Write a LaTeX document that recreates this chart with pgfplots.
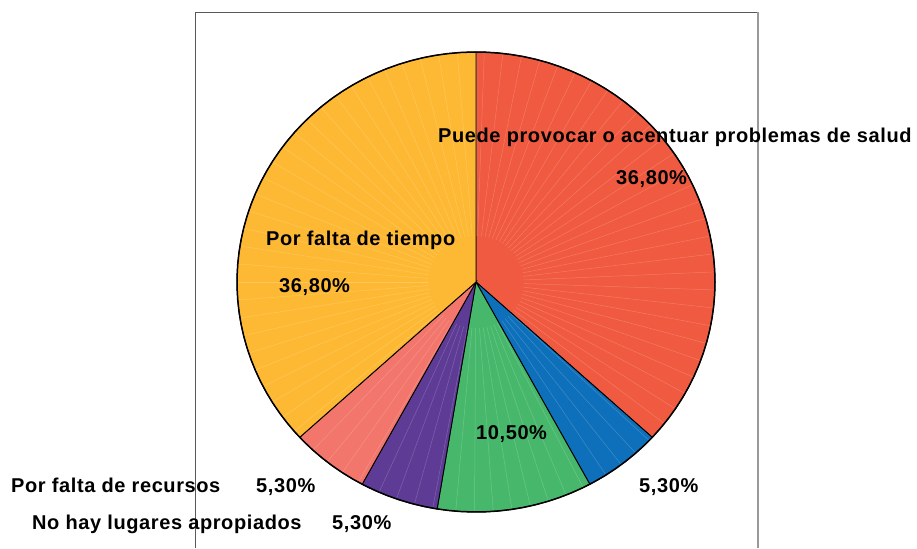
\documentclass[border=0pt]{standalone}
\usepackage{pgfplots}
\pgfplotsset{compat=1.18}
\usepackage{fontspec}
\setmainfont{Liberation Sans}
\newfontfamily\labfont[LetterSpace=3]{Liberation Sans}
\definecolor{cRed}{HTML}{F05A40}
\definecolor{cBlue}{HTML}{0E70BA}
\definecolor{cGreen}{HTML}{47B86B}
\definecolor{cPurple}{HTML}{5E3C96}
\definecolor{cPink}{HTML}{F2766B}
\definecolor{cYellow}{HTML}{FDB933}
% shares (percent): 36.8, 5.3, 10.5, 5.3, 5.3, 36.8 -> angles (deg, clockwise from top)
\newcommand{\slice}[3]{%
  \addplot[fill=#3, draw=none, domain=#1:#2, samples=60, variable=\t]
    ({476+239*cos(\t)},{266+230*sin(\t)}) -- (axis cs:476,266) -- cycle;
  \pgfplotsinvokeforeach{#1,#1+4.5,...,#2}{%
    \addplot[white, opacity=0.2, line width=0.5pt, domain=0.2:1, samples=2, variable=\r]
      ({476+239*\r*cos(##1)},{266+230*\r*sin(##1)});
  }%
  \addplot[draw=black, line width=0.9pt, domain=#1:#2, samples=60, variable=\t]
    ({476+239*cos(\t)},{266+230*sin(\t)}) -- (axis cs:476,266) -- cycle;
}
\begin{document}
\begin{tikzpicture}[lab/.style={anchor=base west, inner sep=0pt, font=\labfont\fontsize{20}{24}\selectfont\bfseries}]
\begin{axis}[width=917pt,height=548pt,scale only axis,
  xmin=0,xmax=917,ymin=0,ymax=548,axis lines=none,ticks=none,clip=false]
\addplot[draw=none] coordinates {(0,0) (917,548)};
% plot area frame
\addplot[draw=black!65, line width=1pt] coordinates {(195,0) (195,535.5) (758,535.5)};
\addplot[draw=black!40, line width=1.2pt] coordinates {(758,535.5) (758,0)};
% pie slices
\slice{-42.48}{90}{cRed}
\slice{-61.56}{-42.48}{cBlue}
\slice{-99.36}{-61.56}{cGreen}
\slice{-118.44}{-99.36}{cPurple}
\slice{-137.52}{-118.44}{cPink}
\slice{-270}{-137.52}{cYellow}
\addplot[draw=black, line width=1.5pt, domain=0:360, samples=120, variable=\t]
  ({476+239*cos(\t)},{266+230*sin(\t)});
% labels
\node[lab] at (axis cs:438,405) {Puede provocar o acentuar problemas de salud};
\node[lab] at (axis cs:616,363) {36,80\%};
\node[lab] at (axis cs:266,302) {Por falta de tiempo};
\node[lab] at (axis cs:279,255) {36,80\%};
\node[lab] at (axis cs:476,109) {10,50\%};
\node[lab] at (axis cs:639,56) {5,30\%};
\node[lab] at (axis cs:11,56) {Por falta de recursos};
\node[lab] at (axis cs:256,56) {5,30\%};
\node[lab] at (axis cs:32,19) {No hay lugares apropiados};
\node[lab] at (axis cs:332,19) {5,30\%};
\end{axis}
\end{tikzpicture}
\end{document}
